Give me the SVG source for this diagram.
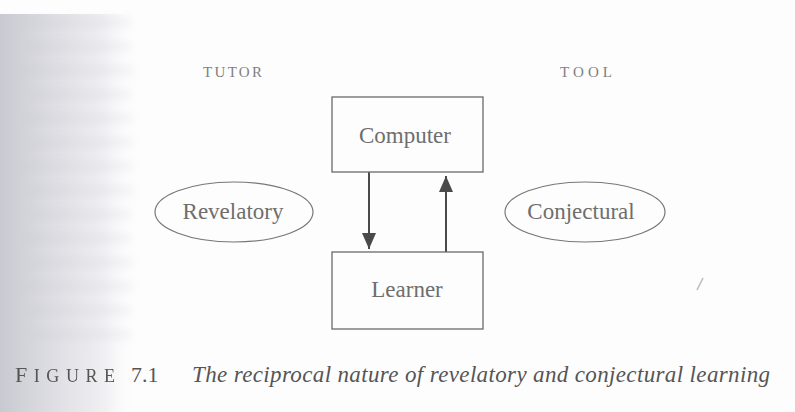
<svg xmlns="http://www.w3.org/2000/svg" width="795" height="412" viewBox="0 0 795 412">
  <defs>
    <linearGradient id="gutter" x1="0" y1="0" x2="1" y2="0">
      <stop offset="0" stop-color="#c9c9d1"/>
      <stop offset="0.35" stop-color="#dcdce2"/>
      <stop offset="0.75" stop-color="#f0f0f3"/>
      <stop offset="1" stop-color="#ffffff" stop-opacity="0"/>
    </linearGradient>
    <filter id="soft" x="-20%" y="-100%" width="140%" height="300%">
      <feGaussianBlur stdDeviation="4"/>
    </filter>
    <marker id="head" viewBox="0 0 16 14" refX="16" refY="7" markerWidth="16" markerHeight="14" markerUnits="userSpaceOnUse" orient="auto">
      <path d="M0,0 L16,7 L0,14 Z" fill="#4a4a4a"/>
    </marker>
    <style>
      .box { fill: none; stroke: #6a6a6a; stroke-width: 1.3; }
      .oval { fill: none; stroke: #777; stroke-width: 1.2; }
      .label { font-family: "Liberation Serif", serif; font-size: 23px; fill: #6e6e6e; text-anchor: middle; }
      .side { font-family: "Liberation Serif", serif; font-size: 15px; fill: #808080; }
      .edge { stroke: #4a4a4a; stroke-width: 2; fill: none; }
      .cap { font-family: "Liberation Serif", serif; fill: #555; }
    </style>
  </defs>

  <!-- page -->
  <rect x="0" y="0" width="795" height="412" fill="#fdfdfd"/>
  <!-- darker binding gutter on the left -->
  <rect x="0" y="14" width="140" height="398" fill="url(#gutter)"/>
  <g fill="#c4c4cc" opacity="0.18" filter="url(#soft)">
    <rect x="20" y="18" width="110" height="9"/>
    <rect x="25" y="42" width="105" height="9"/>
    <rect x="22" y="66" width="112" height="9"/>
    <rect x="30" y="90" width="100" height="9"/>
    <rect x="24" y="114" width="108" height="9"/>
    <rect x="28" y="138" width="104" height="9"/>
    <rect x="22" y="162" width="110" height="9"/>
    <rect x="26" y="186" width="108" height="9"/>
    <rect x="30" y="210" width="100" height="9"/>
    <rect x="24" y="234" width="106" height="9"/>
    <rect x="28" y="258" width="104" height="9"/>
    <rect x="22" y="282" width="110" height="9"/>
    <rect x="26" y="306" width="104" height="9"/>
    <rect x="30" y="330" width="100" height="9"/>
  </g>

  <!-- column headings -->
  <text class="side" x="203" y="77" textLength="59">TUTOR</text>
  <text class="side" x="560" y="77" textLength="52">TOOL</text>

  <!-- connectors -->
  <g id="connectors">
    <line class="edge" x1="369" y1="172" x2="369" y2="249" marker-end="url(#head)"/>
    <line class="edge" x1="446" y1="252" x2="446" y2="176" marker-end="url(#head)"/>
  </g>

  <g id="computer">
    <rect class="box" x="332" y="97" width="151" height="75"/>
    <text class="label" x="405" y="143">Computer</text>
  </g>

  <g id="learner">
    <rect class="box" x="332" y="252" width="151" height="77"/>
    <text class="label" x="407" y="297">Learner</text>
  </g>

  <g id="revelatory">
    <ellipse class="oval" cx="234" cy="212" rx="79" ry="30"/>
    <text class="label" x="233" y="219">Revelatory</text>
  </g>

  <g id="conjectural">
    <ellipse class="oval" cx="585" cy="212" rx="80" ry="30"/>
    <text class="label" x="581" y="219">Conjectural</text>
  </g>

  <!-- small stray mark on the page -->
  <line x1="703" y1="278" x2="697" y2="290" stroke="#bbb" stroke-width="1.5"/>

  <!-- caption -->
  <text class="cap" x="15" y="382" fill="#9a9a9a" style="filter:blur(0.6px)" textLength="100"><tspan font-size="22">F</tspan><tspan font-size="18">IGURE</tspan></text>
  <text class="cap" x="131" y="382" font-size="22">7.1</text>
  <text class="cap" x="192" y="382" font-size="23" font-style="italic" textLength="578">The reciprocal nature of revelatory and conjectural learning</text>
</svg>
